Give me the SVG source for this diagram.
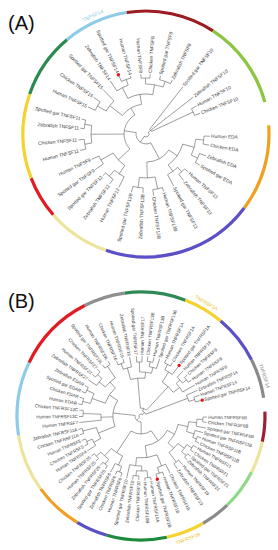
<svg xmlns="http://www.w3.org/2000/svg" width="278" height="550" viewBox="0 0 278 550">
<style>
.br{fill:none;stroke:#5a5a5a;stroke-width:0.55}
.ring{fill:none;stroke-width:3.2}
.t{font-family:"Liberation Sans",Arial,sans-serif;font-size:4.8px;fill:#3a3a3a;dominant-baseline:central}
.tb{font-size:4.5px}
.e{text-anchor:end}
.dot{fill:#e8131b}
.pl{font-family:"Liberation Sans",Arial,sans-serif;font-size:20px;fill:#111}
.rl{font-family:"Liberation Sans",Arial,sans-serif;font-size:5.2px;text-anchor:middle;dominant-baseline:central}
</style>
<rect width="278" height="550" fill="#fff"/>
<text id="labelA" class="pl" x="8" y="30">(A)</text>
<text id="labelB" class="pl" x="8" y="308">(B)</text>

<g id="panelA" transform="translate(146 134)">
 <g id="a-ring" class="ring">
  <circle r="123" stroke="#8ccbe9" transform="rotate(230)" stroke-dasharray="66.55 999"/>
  <circle r="123" stroke="#9b1c22" transform="rotate(261)" stroke-dasharray="90.17 999"/>
  <circle r="123" stroke="#8cc63f" transform="rotate(303)" stroke-dasharray="90.17 999"/>
  <circle r="123" stroke="#f0a020" transform="rotate(356)" stroke-dasharray="88.02 999"/>
  <circle r="123" stroke="#5b50c6" transform="rotate(37)" stroke-dasharray="154.57 999"/>
  <circle r="123" stroke="#ece49c" transform="rotate(109)" stroke-dasharray="64.40 999"/>
  <circle r="123" stroke="#e01b22" transform="rotate(139)" stroke-dasharray="42.94 999"/>
  <circle r="123" stroke="#f5d22e" transform="rotate(159)" stroke-dasharray="85.87 999"/>
  <circle r="123" stroke="#2b8a4f" transform="rotate(199)" stroke-dasharray="66.55 999"/>
 </g>
 <text id="a-ringlabel" class="rl" fill="#8ccbe9" transform="rotate(245.7) translate(130 0) rotate(90)">TNFSF14</text>
 <g id="a-connectors" class="br">
  <circle r="3" transform="rotate(321.5)" stroke-dasharray="8.56 999"/>
  <circle r="10" transform="rotate(61.6)" stroke-dasharray="22.12 999"/>
  <circle r="6" transform="rotate(308)" stroke-dasharray="2.83 999"/>
  <circle r="52" transform="rotate(331)" stroke-dasharray="7.26 999"/>
  <circle r="22" transform="rotate(137)" stroke-dasharray="39.43 999"/>
  <circle r="30" transform="rotate(218)" stroke-dasharray="22.72 999"/>
  <circle r="46" transform="rotate(210)" stroke-dasharray="12.85 999"/>
  <circle r="56" transform="rotate(205)" stroke-dasharray="9.77 999"/>
  <circle r="40" transform="rotate(243)" stroke-dasharray="25.66 999"/>
  <circle r="52" transform="rotate(236)" stroke-dasharray="12.71 999"/>
  <circle r="58" transform="rotate(245)" stroke-dasharray="10.12 999"/>
  <circle r="50" transform="rotate(269.5)" stroke-dasharray="17.89 999"/>
  <circle r="56" transform="rotate(265)" stroke-dasharray="8.80 999"/>
  <circle r="56" transform="rotate(284)" stroke-dasharray="11.73 999"/>
  <circle r="55" transform="rotate(170.5)" stroke-dasharray="17.76 999"/>
  <circle r="62" transform="rotate(166)" stroke-dasharray="9.74 999"/>
  <circle r="62" transform="rotate(185)" stroke-dasharray="8.66 999"/>
  <circle r="38" transform="rotate(124)" stroke-dasharray="17.24 999"/>
  <circle r="48" transform="rotate(117)" stroke-dasharray="11.73 999"/>
  <circle r="56" transform="rotate(126)" stroke-dasharray="9.77 999"/>
  <circle r="52" transform="rotate(145)" stroke-dasharray="9.08 999"/>
  <circle r="28" transform="rotate(34.9)" stroke-dasharray="26.07 999"/>
  <circle r="38" transform="rotate(15.5)" stroke-dasharray="25.70 999"/>
  <circle r="50" transform="rotate(6)" stroke-dasharray="16.58 999"/>
  <circle r="58" transform="rotate(2)" stroke-dasharray="8.10 999"/>
  <circle r="57" transform="rotate(20)" stroke-dasharray="9.95 999"/>
  <circle r="46" transform="rotate(46.5)" stroke-dasharray="12.44 999"/>
  <circle r="52" transform="rotate(42)" stroke-dasharray="8.17 999"/>
  <circle r="44" transform="rotate(78)" stroke-dasharray="15.74 999"/>
  <circle r="56" transform="rotate(73)" stroke-dasharray="9.77 999"/>
  <circle r="54" transform="rotate(93)" stroke-dasharray="10.37 999"/>
  <path transform="rotate(2)" d="M58 0H64"/>
  <path transform="rotate(10)" d="M58 0H64"/>
  <path transform="rotate(20)" d="M57 0H64"/>
  <path transform="rotate(30)" d="M57 0H62"/>
  <path transform="rotate(42)" d="M52 0H57"/>
  <path transform="rotate(51)" d="M52 0H60"/>
  <path transform="rotate(62)" d="M46 0H59"/>
  <path transform="rotate(73)" d="M56 0H60"/>
  <path transform="rotate(83)" d="M56 0H62"/>
  <path transform="rotate(93)" d="M54 0H59"/>
  <path transform="rotate(104)" d="M54 0H60"/>
  <path transform="rotate(117)" d="M48 0H60"/>
  <path transform="rotate(126)" d="M56 0H62"/>
  <path transform="rotate(136)" d="M56 0H60"/>
  <path transform="rotate(145)" d="M52 0H62"/>
  <path transform="rotate(155)" d="M52 0H60"/>
  <path transform="rotate(166)" d="M62 0H68"/>
  <path transform="rotate(175)" d="M62 0H68"/>
  <path transform="rotate(185)" d="M62 0H66"/>
  <path transform="rotate(193)" d="M62 0H66"/>
  <path transform="rotate(205)" d="M56 0H64"/>
  <path transform="rotate(215)" d="M56 0H64"/>
  <path transform="rotate(226)" d="M46 0H62"/>
  <path transform="rotate(236)" d="M52 0H64"/>
  <path transform="rotate(245)" d="M58 0H64"/>
  <path transform="rotate(255)" d="M58 0H60"/>
  <path transform="rotate(265)" d="M56 0H60"/>
  <path transform="rotate(274)" d="M56 0H60"/>
  <path transform="rotate(284)" d="M56 0H60"/>
  <path transform="rotate(296)" d="M56 0H60"/>
  <path transform="rotate(308)" d="M6 0H60"/>
  <path transform="rotate(322)" d="M6 0H60"/>
  <path transform="rotate(331)" d="M52 0H58"/>
  <path transform="rotate(339)" d="M52 0H58"/>
  <path transform="rotate(335)" d="M6 0H52"/>
  <path transform="rotate(210)" d="M46 0H56"/>
  <path transform="rotate(218)" d="M30 0H46"/>
  <path transform="rotate(250)" d="M52 0H58"/>
  <path transform="rotate(243)" d="M40 0H52"/>
  <path transform="rotate(269.5)" d="M50 0H56"/>
  <path transform="rotate(290)" d="M50 0H56"/>
  <path transform="rotate(279.75)" d="M40 0H50"/>
  <path transform="rotate(261.4)" d="M30 0H40"/>
  <path transform="rotate(239.7)" d="M22 0H30"/>
  <path transform="rotate(170.5)" d="M55 0H62"/>
  <path transform="rotate(189)" d="M55 0H62"/>
  <path transform="rotate(179.75)" d="M22 0H55"/>
  <path transform="rotate(150)" d="M38 0H52"/>
  <path transform="rotate(131)" d="M48 0H56"/>
  <path transform="rotate(124)" d="M38 0H48"/>
  <path transform="rotate(137)" d="M22 0H38"/>
  <path transform="rotate(188.35)" d="M10 0H22"/>
  <path transform="rotate(6)" d="M50 0H58"/>
  <path transform="rotate(25)" d="M50 0H57"/>
  <path transform="rotate(15.5)" d="M38 0H50"/>
  <path transform="rotate(46.5)" d="M46 0H52"/>
  <path transform="rotate(54.25)" d="M38 0H46"/>
  <path transform="rotate(34.9)" d="M28 0H38"/>
  <path transform="rotate(78)" d="M44 0H56"/>
  <path transform="rotate(98.5)" d="M44 0H54"/>
  <path transform="rotate(88.25)" d="M28 0H44"/>
  <path transform="rotate(61.6)" d="M10 0H28"/>
  <path transform="rotate(125)" d="M3 0H10"/>
  <path transform="rotate(321.5)" d="M3 0H6"/>
 </g>
 <g id="a1" transform="rotate(2)"><text class="t" x="65.2">Human EDA</text></g>
 <g id="a2" transform="rotate(10)"><text class="t" x="65.2">Chicken EDA</text></g>
 <g id="a3" transform="rotate(20)"><text class="t" x="65.2">Zebrafish EDA</text></g>
 <g id="a4" transform="rotate(30)"><text class="t" x="63.2">Spotted gar EDA</text></g>
 <g id="a5" transform="rotate(42)"><text class="t" x="58.2">Human TNFSF13</text></g>
 <g id="a6" transform="rotate(51)"><text class="t" x="61.2">Zebrafish TNFSF13</text></g>
 <g id="a7" transform="rotate(62)"><text class="t" x="60.2">Spotted gar TNFSF13</text></g>
 <g id="a8" transform="rotate(73)"><text class="t" x="61.2">Human TNFSF13B</text></g>
 <g id="a9" transform="rotate(83)"><text class="t" x="63.2">Chicken TNFSF13B</text></g>
 <g id="a10" transform="rotate(93)"><text class="t e" transform="translate(60.2 0) rotate(180)">Zebrafish TNFSF13B</text></g>
 <g id="a11" transform="rotate(104)"><text class="t e" transform="translate(61.2 0) rotate(180)">Spotted gar TNFSF13B</text></g>
 <g id="a12" transform="rotate(117)"><text class="t e" transform="translate(61.2 0) rotate(180)">Human TNFSF12</text></g>
 <g id="a13" transform="rotate(126)"><text class="t e" transform="translate(63.2 0) rotate(180)">Zebrafish TNFSF12</text></g>
 <g id="a14" transform="rotate(136)"><text class="t e" transform="translate(61.2 0) rotate(180)">Spotted gar TNFSF12</text></g>
 <g id="a15" transform="rotate(145)"><text class="t e" transform="translate(63.2 0) rotate(180)">Spotted gar TNFSF9</text></g>
 <g id="a16" transform="rotate(155)"><text class="t e" transform="translate(61.2 0) rotate(180)">Human TNFSF9</text></g>
 <g id="a17" transform="rotate(166)"><text class="t e" transform="translate(69.2 0) rotate(180)">Human TNFSF11</text></g>
 <g id="a18" transform="rotate(175)"><text class="t e" transform="translate(69.2 0) rotate(180)">Chicken TNFSF11</text></g>
 <g id="a19" transform="rotate(185)"><text class="t e" transform="translate(67.2 0) rotate(180)">Zebrafish TNFSF11</text></g>
 <g id="a20" transform="rotate(193)"><text class="t e" transform="translate(67.2 0) rotate(180)">Spotted gar TNFSF11</text></g>
 <g id="a21" transform="rotate(205)"><text class="t e" transform="translate(65.2 0) rotate(180)">Human TNFSF15</text></g>
 <g id="a22" transform="rotate(215)"><text class="t e" transform="translate(65.2 0) rotate(180)">Chicken TNFSF15</text></g>
 <g id="a23" transform="rotate(226)"><text class="t e" transform="translate(63.2 0) rotate(180)">Spotted gar TNFSF15</text></g>
 <g id="a24" transform="rotate(236)"><text class="t e" transform="translate(65.2 0) rotate(180)">Zebrafish TNFSF14</text></g>
 <g id="a25" transform="rotate(245)"><circle class="dot" cx="65.3" r="1.7"/><text class="t e" transform="translate(67.5 0) rotate(180)">Spotted gar TNFSF14</text></g>
 <g id="a26" transform="rotate(255)"><text class="t e" transform="translate(61.2 0) rotate(180)">Human TNFSF14</text></g>
 <g id="a27" transform="rotate(265)"><text class="t e" transform="translate(61.2 0) rotate(180)">Human TNFSF8</text></g>
 <g id="a28" transform="rotate(274)"><text class="t" x="61.2">Chicken TNFSF8</text></g>
 <g id="a29" transform="rotate(284)"><text class="t" x="61.2">Spotted gar TNFSF8</text></g>
 <g id="a30" transform="rotate(296)"><text class="t" x="61.2">Zebrafish TNFSF8</text></g>
 <g id="a31" transform="rotate(308)"><text class="t" x="61.2">Spotted gar TNFSF10</text></g>
 <g id="a32" transform="rotate(322)"><text class="t" x="61.2">Zebrafish TNFSF10</text></g>
 <g id="a33" transform="rotate(331)"><text class="t" x="59.2">Human TNFSF10</text></g>
 <g id="a34" transform="rotate(339)"><text class="t" x="59.2">Chicken TNFSF10</text></g>
</g>

<g id="panelB" transform="translate(141 416)">
 <g id="b-ring" class="ring">
  <circle r="124" stroke="#8f8f8f" transform="rotate(243)" stroke-dasharray="42.20 999"/>
  <circle r="124" stroke="#2e8b57" transform="rotate(262.5)" stroke-dasharray="61.68 999"/>
  <circle r="124" stroke="#f5d22e" transform="rotate(291)" stroke-dasharray="41.12 999"/>
  <circle r="124" stroke="#5b50c6" transform="rotate(310)" stroke-dasharray="49.78 999"/>
  <circle r="124" stroke="#8a8a8a" transform="rotate(333)" stroke-dasharray="40.04 999"/>
  <circle r="124" stroke="#9b2030" transform="rotate(358)" stroke-dasharray="30.30 999"/>
  <circle r="124" stroke="#ece49c" transform="rotate(12)" stroke-dasharray="32.46 999"/>
  <circle r="124" stroke="#90d98a" transform="rotate(27)" stroke-dasharray="41.12 999"/>
  <circle r="124" stroke="#8a8a8a" transform="rotate(46)" stroke-dasharray="30.30 999"/>
  <circle r="124" stroke="#f5d22e" transform="rotate(60)" stroke-dasharray="38.96 999"/>
  <circle r="124" stroke="#1e8a3c" transform="rotate(78)" stroke-dasharray="60.60 999"/>
  <circle r="124" stroke="#5b50c6" transform="rotate(106)" stroke-dasharray="32.46 999"/>
  <circle r="124" stroke="#f0a020" transform="rotate(121)" stroke-dasharray="49.78 999"/>
  <circle r="124" stroke="#ece49c" transform="rotate(144)" stroke-dasharray="58.43 999"/>
  <circle r="124" stroke="#8ccbe9" transform="rotate(171)" stroke-dasharray="74.66 999"/>
  <circle r="124" stroke="#e01b22" transform="rotate(205.5)" stroke-dasharray="81.16 999"/>
 </g>
 <text id="b-ringlabel1" class="rl" style="font-size:5px" fill="#e8c21e" transform="rotate(300) translate(131 0) rotate(90)">TNFRSF1A</text>
 <text id="b-ringlabel2" class="rl" style="font-size:5px" fill="#8a8a8a" transform="rotate(342) translate(130 0) rotate(90)">TNFRSF14</text>
 <text id="b-ringlabel3" class="rl" style="font-size:5px" fill="#e8c21e" transform="rotate(69) translate(131 0) rotate(-90)">TNFRSF1B</text>
 <g id="b-connectors" class="br">
  <circle r="62" transform="rotate(1)" stroke-dasharray="4.87 999"/>
  <circle r="56" transform="rotate(3.25)" stroke-dasharray="7.09 999"/>
  <circle r="60" transform="rotate(20)" stroke-dasharray="5.24 999"/>
  <circle r="56" transform="rotate(15)" stroke-dasharray="7.33 999"/>
  <circle r="48" transform="rotate(6.875)" stroke-dasharray="9.95 999"/>
  <circle r="60" transform="rotate(29.5)" stroke-dasharray="5.24 999"/>
  <circle r="60" transform="rotate(39)" stroke-dasharray="4.71 999"/>
  <circle r="54" transform="rotate(32)" stroke-dasharray="8.72 999"/>
  <circle r="58" transform="rotate(49.5)" stroke-dasharray="6.07 999"/>
  <circle r="46" transform="rotate(36.625)" stroke-dasharray="12.77 999"/>
  <circle r="38" transform="rotate(12.81)" stroke-dasharray="21.06 999"/>
  <circle r="60" transform="rotate(69)" stroke-dasharray="6.81 999"/>
  <circle r="54" transform="rotate(63)" stroke-dasharray="8.72 999"/>
  <circle r="62" transform="rotate(81)" stroke-dasharray="5.95 999"/>
  <circle r="60" transform="rotate(92)" stroke-dasharray="5.76 999"/>
  <circle r="55" transform="rotate(83.75)" stroke-dasharray="10.56 999"/>
  <circle r="50" transform="rotate(89.25)" stroke-dasharray="12.0 999"/>
  <circle r="42" transform="rotate(67.625)" stroke-dasharray="20.89 999"/>
  <circle r="30" transform="rotate(28.69)" stroke-dasharray="27.85 999"/>
  <circle r="60" transform="rotate(108.5)" stroke-dasharray="5.24 999"/>
  <circle r="54" transform="rotate(111)" stroke-dasharray="7.07 999"/>
  <circle r="60" transform="rotate(124)" stroke-dasharray="5.76 999"/>
  <circle r="60" transform="rotate(135)" stroke-dasharray="6.28 999"/>
  <circle r="54" transform="rotate(126.75)" stroke-dasharray="10.60 999"/>
  <circle r="44" transform="rotate(114.75)" stroke-dasharray="13.53 999"/>
  <circle r="18" transform="rotate(55.28)" stroke-dasharray="21.45 999"/>
  <circle r="60" transform="rotate(152)" stroke-dasharray="5.76 999"/>
  <circle r="54" transform="rotate(147)" stroke-dasharray="7.30 999"/>
  <circle r="60" transform="rotate(163)" stroke-dasharray="5.24 999"/>
  <circle r="46" transform="rotate(150.875)" stroke-dasharray="11.74 999"/>
  <circle r="58" transform="rotate(179.5)" stroke-dasharray="6.07 999"/>
  <circle r="40" transform="rotate(174)" stroke-dasharray="5.93 999"/>
  <circle r="60" transform="rotate(191)" stroke-dasharray="6.28 999"/>
  <circle r="60" transform="rotate(202.5)" stroke-dasharray="6.28 999"/>
  <circle r="52" transform="rotate(194)" stroke-dasharray="10.44 999"/>
  <circle r="60" transform="rotate(220.5)" stroke-dasharray="6.81 999"/>
  <circle r="54" transform="rotate(214.5)" stroke-dasharray="8.72 999"/>
  <circle r="60" transform="rotate(233)" stroke-dasharray="6.28 999"/>
  <circle r="46" transform="rotate(219.125)" stroke-dasharray="13.55 999"/>
  <circle r="38" transform="rotate(199.75)" stroke-dasharray="18.44 999"/>
  <circle r="28" transform="rotate(158.19)" stroke-dasharray="27.11 999"/>
  <circle r="56" transform="rotate(246)" stroke-dasharray="6.35 999"/>
  <circle r="50" transform="rotate(249.25)" stroke-dasharray="8.51 999"/>
  <circle r="54" transform="rotate(265.5)" stroke-dasharray="5.18 999"/>
  <circle r="55" transform="rotate(276.5)" stroke-dasharray="5.76 999"/>
  <circle r="50" transform="rotate(279.5)" stroke-dasharray="7.42 999"/>
  <circle r="44" transform="rotate(268.25)" stroke-dasharray="11.90 999"/>
  <circle r="38" transform="rotate(254.125)" stroke-dasharray="14.51 999"/>
  <circle r="58" transform="rotate(294)" stroke-dasharray="6.58 999"/>
  <circle r="52" transform="rotate(297.25)" stroke-dasharray="8.85 999"/>
  <circle r="58" transform="rotate(318.5)" stroke-dasharray="6.07 999"/>
  <circle r="53" transform="rotate(313)" stroke-dasharray="7.86 999"/>
  <circle r="48" transform="rotate(317.25)" stroke-dasharray="10.68 999"/>
  <circle r="40" transform="rotate(302.125)" stroke-dasharray="15.01 999"/>
  <circle r="56" transform="rotate(340.5)" stroke-dasharray="4.89 999"/>
  <circle r="50" transform="rotate(335.5)" stroke-dasharray="6.54 999"/>
  <circle r="8" transform="rotate(265.06)" stroke-dasharray="6.67 999"/>
  <circle r="6" transform="rotate(89.42)" stroke-dasharray="10.11 999"/>
  <circle r="5" transform="rotate(288.97)" stroke-dasharray="4.39 999"/>
  <circle r="2" transform="rotate(137.67)" stroke-dasharray="6.16 999"/>
  <path transform="rotate(1)" d="M62 0H66"/>
  <path transform="rotate(5.5)" d="M62 0H66"/>
  <path transform="rotate(10.5)" d="M56 0H66"/>
  <path transform="rotate(15)" d="M56 0H64"/>
  <path transform="rotate(20)" d="M60 0H64"/>
  <path transform="rotate(25)" d="M60 0H64"/>
  <path transform="rotate(29.5)" d="M60 0H64"/>
  <path transform="rotate(34.5)" d="M60 0H64"/>
  <path transform="rotate(39)" d="M60 0H64"/>
  <path transform="rotate(43.5)" d="M60 0H64"/>
  <path transform="rotate(49.5)" d="M58 0H64"/>
  <path transform="rotate(55.5)" d="M58 0H64"/>
  <path transform="rotate(63)" d="M54 0H64"/>
  <path transform="rotate(69)" d="M60 0H64"/>
  <path transform="rotate(75.5)" d="M60 0H64"/>
  <path transform="rotate(81)" d="M62 0H65"/>
  <path transform="rotate(86.5)" d="M62 0H65"/>
  <path transform="rotate(92)" d="M60 0H64"/>
  <path transform="rotate(97.5)" d="M60 0H64"/>
  <path transform="rotate(103)" d="M50 0H64"/>
  <path transform="rotate(108.5)" d="M60 0H64"/>
  <path transform="rotate(113.5)" d="M60 0H64"/>
  <path transform="rotate(118.5)" d="M54 0H64"/>
  <path transform="rotate(124)" d="M60 0H64"/>
  <path transform="rotate(129.5)" d="M60 0H64"/>
  <path transform="rotate(135)" d="M60 0H64"/>
  <path transform="rotate(141)" d="M60 0H64"/>
  <path transform="rotate(147)" d="M54 0H64"/>
  <path transform="rotate(152)" d="M60 0H64"/>
  <path transform="rotate(157.5)" d="M60 0H64"/>
  <path transform="rotate(163)" d="M60 0H64"/>
  <path transform="rotate(168)" d="M60 0H64"/>
  <path transform="rotate(174)" d="M40 0H62"/>
  <path transform="rotate(179.5)" d="M58 0H62"/>
  <path transform="rotate(185.5)" d="M58 0H62"/>
  <path transform="rotate(191)" d="M60 0H64"/>
  <path transform="rotate(197)" d="M60 0H64"/>
  <path transform="rotate(202.5)" d="M60 0H64"/>
  <path transform="rotate(208.5)" d="M60 0H64"/>
  <path transform="rotate(214.5)" d="M54 0H64"/>
  <path transform="rotate(220.5)" d="M60 0H64"/>
  <path transform="rotate(227)" d="M60 0H64"/>
  <path transform="rotate(233)" d="M60 0H64"/>
  <path transform="rotate(239)" d="M60 0H64"/>
  <path transform="rotate(246)" d="M56 0H60"/>
  <path transform="rotate(252.5)" d="M56 0H60"/>
  <path transform="rotate(259)" d="M50 0H60"/>
  <path transform="rotate(265.5)" d="M54 0H60"/>
  <path transform="rotate(271)" d="M54 0H60"/>
  <path transform="rotate(276.5)" d="M55 0H60"/>
  <path transform="rotate(282.5)" d="M55 0H60"/>
  <path transform="rotate(288)" d="M50 0H60"/>
  <path transform="rotate(294)" d="M58 0H62"/>
  <path transform="rotate(300.5)" d="M58 0H62"/>
  <path transform="rotate(307)" d="M52 0H62"/>
  <path transform="rotate(313)" d="M53 0H62"/>
  <path transform="rotate(318.5)" d="M58 0H62"/>
  <path transform="rotate(324.5)" d="M58 0H62"/>
  <path transform="rotate(330)" d="M48 0H62"/>
  <path transform="rotate(335.5)" d="M50 0H62"/>
  <path transform="rotate(340.5)" d="M56 0H62"/>
  <path transform="rotate(345.5)" d="M56 0H62"/>
  <path transform="rotate(3.25)" d="M56 0H62"/>
  <path transform="rotate(6.875)" d="M48 0H56"/>
  <path transform="rotate(22.5)" d="M56 0H60"/>
  <path transform="rotate(18.75)" d="M48 0H56"/>
  <path transform="rotate(12.81)" d="M38 0H48"/>
  <path transform="rotate(32)" d="M54 0H60"/>
  <path transform="rotate(41.25)" d="M54 0H60"/>
  <path transform="rotate(36.625)" d="M46 0H54"/>
  <path transform="rotate(52.5)" d="M46 0H58"/>
  <path transform="rotate(44.56)" d="M38 0H46"/>
  <path transform="rotate(28.69)" d="M30 0H38"/>
  <path transform="rotate(72.25)" d="M54 0H60"/>
  <path transform="rotate(67.625)" d="M42 0H54"/>
  <path transform="rotate(83.75)" d="M55 0H62"/>
  <path transform="rotate(94.75)" d="M55 0H60"/>
  <path transform="rotate(89.25)" d="M50 0H55"/>
  <path transform="rotate(96.125)" d="M42 0H50"/>
  <path transform="rotate(81.875)" d="M30 0H42"/>
  <path transform="rotate(55.28)" d="M18 0H30"/>
  <path transform="rotate(111)" d="M54 0H60"/>
  <path transform="rotate(114.75)" d="M44 0H54"/>
  <path transform="rotate(126.75)" d="M54 0H60"/>
  <path transform="rotate(138)" d="M54 0H60"/>
  <path transform="rotate(132.375)" d="M44 0H54"/>
  <path transform="rotate(123.56)" d="M18 0H44"/>
  <path transform="rotate(89.42)" d="M6 0H18"/>
  <path transform="rotate(154.75)" d="M54 0H60"/>
  <path transform="rotate(150.875)" d="M46 0H54"/>
  <path transform="rotate(165.5)" d="M46 0H60"/>
  <path transform="rotate(158.19)" d="M28 0H46"/>
  <path transform="rotate(182.5)" d="M40 0H58"/>
  <path transform="rotate(178.25)" d="M28 0H40"/>
  <path transform="rotate(194)" d="M52 0H60"/>
  <path transform="rotate(205.5)" d="M52 0H60"/>
  <path transform="rotate(199.75)" d="M38 0H52"/>
  <path transform="rotate(223.75)" d="M54 0H60"/>
  <path transform="rotate(219.125)" d="M46 0H54"/>
  <path transform="rotate(236)" d="M46 0H60"/>
  <path transform="rotate(227.56)" d="M38 0H46"/>
  <path transform="rotate(213.66)" d="M28 0H38"/>
  <path transform="rotate(185.92)" d="M6 0H28"/>
  <path transform="rotate(249.25)" d="M50 0H56"/>
  <path transform="rotate(254.125)" d="M38 0H50"/>
  <path transform="rotate(268.25)" d="M44 0H54"/>
  <path transform="rotate(279.5)" d="M50 0H55"/>
  <path transform="rotate(283.75)" d="M44 0H50"/>
  <path transform="rotate(276)" d="M38 0H44"/>
  <path transform="rotate(265.06)" d="M8 0H38"/>
  <path transform="rotate(297.25)" d="M52 0H58"/>
  <path transform="rotate(302.125)" d="M40 0H52"/>
  <path transform="rotate(321.5)" d="M53 0H58"/>
  <path transform="rotate(317.25)" d="M48 0H53"/>
  <path transform="rotate(323.625)" d="M40 0H48"/>
  <path transform="rotate(312.875)" d="M8 0H40"/>
  <path transform="rotate(343)" d="M50 0H56"/>
  <path transform="rotate(339.25)" d="M5 0H50"/>
  <path transform="rotate(288.97)" d="M5 0H8"/>
  <path transform="rotate(137.67)" d="M2 0H6"/>
  <path transform="rotate(314.11)" d="M2 0H5"/>
 </g>
 <g id="b1" transform="rotate(1)"><text class="t tb" x="67.2">Human TNFRSF6B</text></g>
 <g id="b2" transform="rotate(5.5)"><text class="t tb" x="67.2">Chicken TNFRSF6B</text></g>
 <g id="b3" transform="rotate(10.5)"><text class="t tb" x="67.2">Spotted gar TNFRSF6B</text></g>
 <g id="b4" transform="rotate(15)"><text class="t tb" x="65.2">Spotted gar TNFRSF11B</text></g>
 <g id="b5" transform="rotate(20)"><text class="t tb" x="65.2">Human TNFRSF11B</text></g>
 <g id="b6" transform="rotate(25)"><text class="t tb" x="65.2">Chicken TNFRSF11B</text></g>
 <g id="b7" transform="rotate(29.5)"><text class="t tb" x="65.2">Human TNFRSF21</text></g>
 <g id="b8" transform="rotate(34.5)"><text class="t tb" x="65.2">Chicken TNFRSF21</text></g>
 <g id="b9" transform="rotate(39)"><text class="t tb" x="65.2">Spotted gar TNFRSF21</text></g>
 <g id="b10" transform="rotate(43.5)"><text class="t tb" x="65.2">Zebrafish TNFRSF21</text></g>
 <g id="b11" transform="rotate(49.5)"><text class="t tb" x="65.2">Human TNFRSF19</text></g>
 <g id="b12" transform="rotate(55.5)"><text class="t tb" x="65.2">Zebrafish TNFRSF19</text></g>
 <g id="b13" transform="rotate(63)"><text class="t tb" x="65.2">Chicken TNFRSF1B</text></g>
 <g id="b14" transform="rotate(69)"><text class="t tb" x="65.2">Human TNFRSF1B</text></g>
 <g id="b15" transform="rotate(75.5)"><circle class="dot" cx="65.3" r="1.7"/><text class="t tb" x="67.5">Spotted gar TNFRSF1B</text></g>
 <g id="b16" transform="rotate(81)"><text class="t tb" x="66.2">Human TNFRSF10A</text></g>
 <g id="b17" transform="rotate(86.5)"><text class="t tb" x="66.2">Human TNFRSF10B</text></g>
 <g id="b18" transform="rotate(92)"><text class="t tb e" transform="translate(65.2 0) rotate(180)">Chicken TNFRSF10</text></g>
 <g id="b19" transform="rotate(97.5)"><text class="t tb e" transform="translate(65.2 0) rotate(180)">Zebrafish TNFRSF10</text></g>
 <g id="b20" transform="rotate(103)"><text class="t tb e" transform="translate(65.2 0) rotate(180)">Spotted gar TNFRSF10</text></g>
 <g id="b21" transform="rotate(108.5)"><text class="t tb e" transform="translate(65.2 0) rotate(180)">Human TNFRSF6</text></g>
 <g id="b22" transform="rotate(113.5)"><text class="t tb e" transform="translate(65.2 0) rotate(180)">Chicken TNFRSF6</text></g>
 <g id="b23" transform="rotate(118.5)"><text class="t tb e" transform="translate(65.2 0) rotate(180)">Zebrafish TNFRSF6</text></g>
 <g id="b24" transform="rotate(124)"><text class="t tb e" transform="translate(65.2 0) rotate(180)">Spotted gar TNFRSF25</text></g>
 <g id="b25" transform="rotate(129.5)"><text class="t tb e" transform="translate(65.2 0) rotate(180)">Zebrafish TNFRSF25</text></g>
 <g id="b26" transform="rotate(135)"><text class="t tb e" transform="translate(65.2 0) rotate(180)">Human TNFRSF25</text></g>
 <g id="b27" transform="rotate(141)"><text class="t tb e" transform="translate(65.2 0) rotate(180)">Chicken TNFRSF25</text></g>
 <g id="b28" transform="rotate(147)"><text class="t tb e" transform="translate(65.2 0) rotate(180)">Human TNFRSF4</text></g>
 <g id="b29" transform="rotate(152)"><text class="t tb e" transform="translate(65.2 0) rotate(180)">Chicken TNFRSF5</text></g>
 <g id="b30" transform="rotate(157.5)"><text class="t tb e" transform="translate(65.2 0) rotate(180)">Human TNFRSF5</text></g>
 <g id="b31" transform="rotate(163)"><text class="t tb e" transform="translate(65.2 0) rotate(180)">Chicken TNFRSF11A</text></g>
 <g id="b32" transform="rotate(168)"><text class="t tb e" transform="translate(65.2 0) rotate(180)">Zebrafish TNFRSF11A</text></g>
 <g id="b33" transform="rotate(174)"><text class="t tb e" transform="translate(63.2 0) rotate(180)">Human TNFRSF7</text></g>
 <g id="b34" transform="rotate(179.5)"><text class="t tb e" transform="translate(63.2 0) rotate(180)">Human TNFRSF13C</text></g>
 <g id="b35" transform="rotate(185.5)"><text class="t tb e" transform="translate(63.2 0) rotate(180)">Chicken TNFRSF13C</text></g>
 <g id="b36" transform="rotate(191)"><text class="t tb e" transform="translate(65.2 0) rotate(180)">Human EDAR</text></g>
 <g id="b37" transform="rotate(197)"><text class="t tb e" transform="translate(65.2 0) rotate(180)">Chicken EDAR</text></g>
 <g id="b38" transform="rotate(202.5)"><text class="t tb e" transform="translate(65.2 0) rotate(180)">Spotted gar EDAR</text></g>
 <g id="b39" transform="rotate(208.5)"><text class="t tb e" transform="translate(65.2 0) rotate(180)">Zebrafish EDAR</text></g>
 <g id="b40" transform="rotate(214.5)"><text class="t tb e" transform="translate(65.2 0) rotate(180)">Zebrafish TNFRSF27</text></g>
 <g id="b41" transform="rotate(220.5)"><text class="t tb e" transform="translate(65.2 0) rotate(180)">Human TNFRSF27</text></g>
 <g id="b42" transform="rotate(227)"><text class="t tb e" transform="translate(65.2 0) rotate(180)">Chicken TNFRSF27</text></g>
 <g id="b43" transform="rotate(233)"><text class="t tb e" transform="translate(65.2 0) rotate(180)">Spotted gar TNFRSF19L</text></g>
 <g id="b44" transform="rotate(239)"><text class="t tb e" transform="translate(65.2 0) rotate(180)">Human TNFRSF19L</text></g>
 <g id="b45" transform="rotate(246)"><text class="t tb e" transform="translate(61.2 0) rotate(180)">Chicken TNFRSF16</text></g>
 <g id="b46" transform="rotate(252.5)"><text class="t tb e" transform="translate(61.2 0) rotate(180)">Human TNFRSF16</text></g>
 <g id="b47" transform="rotate(259)"><text class="t tb e" transform="translate(61.2 0) rotate(180)">Zebrafish TNFRSF16</text></g>
 <g id="b48" transform="rotate(265.5)"><text class="t tb e" transform="translate(61.2 0) rotate(180)">Spotted gar TNFRSF17</text></g>
 <g id="b49" transform="rotate(271)"><text class="t tb" x="61.2">Human TNFRSF17</text></g>
 <g id="b50" transform="rotate(276.5)"><text class="t tb" x="61.2">Chicken TNFRSF13B</text></g>
 <g id="b51" transform="rotate(282.5)"><text class="t tb" x="61.2">Human TNFRSF13B</text></g>
 <g id="b52" transform="rotate(288)"><text class="t tb" x="61.2">Spotted gar TNFRSF13B</text></g>
 <g id="b53" transform="rotate(294)"><text class="t tb" x="63.2">Human TNFRSF1A</text></g>
 <g id="b54" transform="rotate(300.5)"><text class="t tb" x="63.2">Chicken TNFRSF1A</text></g>
 <g id="b55" transform="rotate(307)"><circle class="dot" cx="63.3" r="1.7"/><text class="t tb" x="65.5">Spotted gar TNFRSF1A</text></g>
 <g id="b56" transform="rotate(313)"><text class="t tb" x="63.2">Human TNFRSF18</text></g>
 <g id="b57" transform="rotate(318.5)"><text class="t tb" x="63.2">Chicken TNFRSF9</text></g>
 <g id="b58" transform="rotate(324.5)"><text class="t tb" x="63.2">Human TNFRSF9</text></g>
 <g id="b59" transform="rotate(330)"><text class="t tb" x="63.2">Human TNFRSF8</text></g>
 <g id="b60" transform="rotate(335.5)"><text class="t tb" x="63.2">Zebrafish TNFRSF14</text></g>
 <g id="b61" transform="rotate(340.5)"><text class="t tb" x="63.2">Human TNFRSF14</text></g>
 <g id="b62" transform="rotate(345.5)"><circle class="dot" cx="63.3" r="1.7"/><text class="t tb" x="65.5">Spotted gar TNFRSF14</text></g>
</g>
</svg>
